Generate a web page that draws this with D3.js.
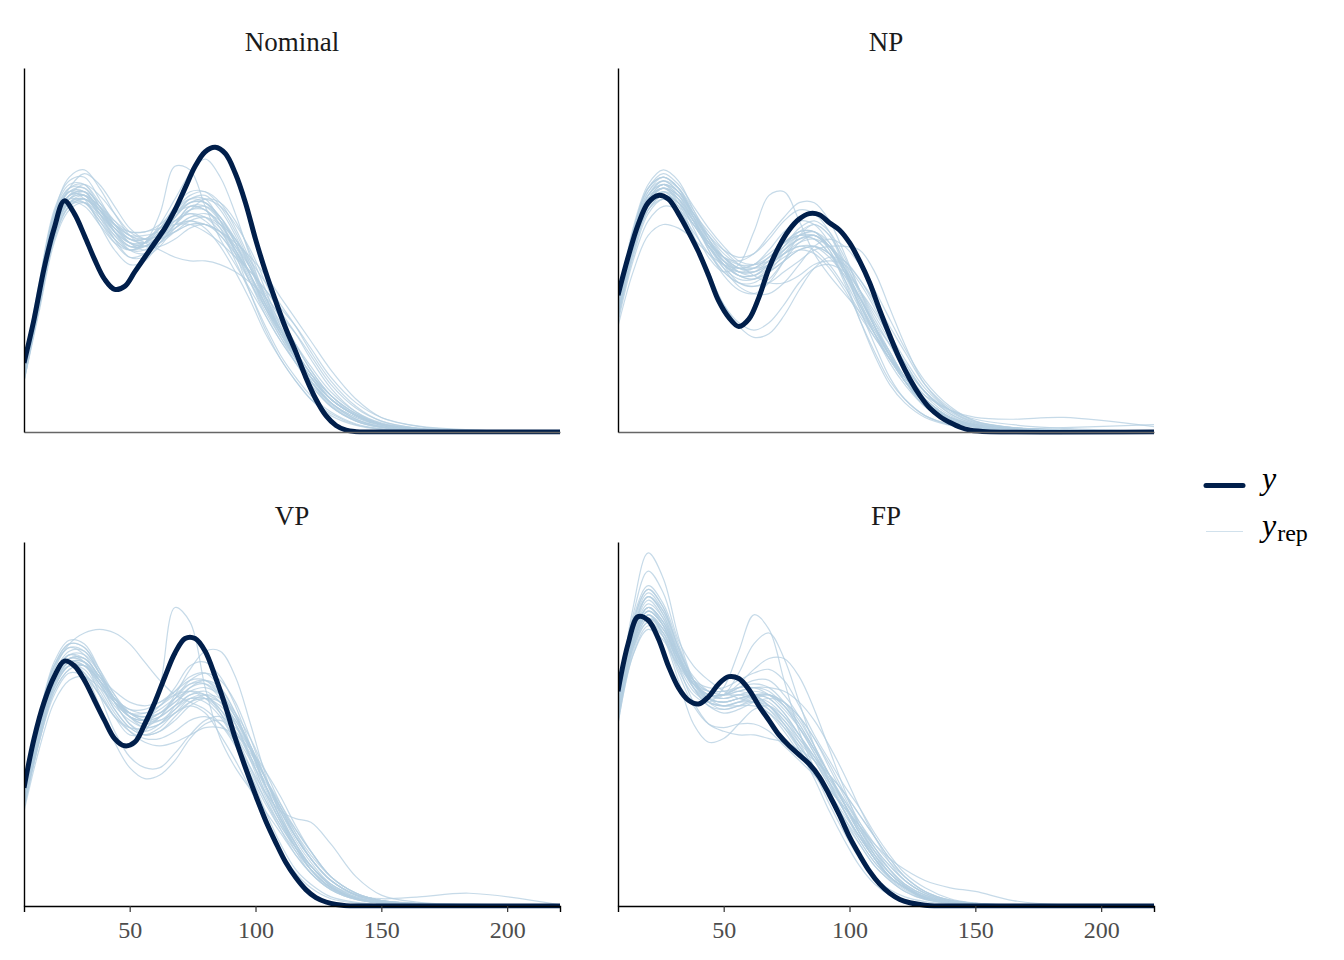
<!DOCTYPE html>
<html><head><meta charset="utf-8">
<script src="https://cdn.jsdelivr.net/npm/d3@7"></script>
<style>body{margin:0;background:#fff}</style></head>
<body><svg id="c" width="1344" height="960"></svg>
<script>
const panels = ["Nominal", "NP", "VP", "FP"];
const xTicks = [50, 100, 150, 200];
const legendLabels = ["y", "rep"];

// x grid of the observed-data density (y)
const xGridY = [8,12,16,20,24,28,32,36,40,44,48,52,56,60,64,68,72,76,80,84,88,92,96,100,104,108,112,116,120,124,128,132,136,140,144,148,152,156,221];
// x grid of the replicated densities (yrep)
const xGridRep = [8,14,20,26,32,38,44,50,56,62,68,74,80,86,92,98,104,110,116,122,130,140,150,165,185,221];

// observed density, relative height (0-100 of panel)
const yNominal = [19,31,45,56,63.5,60,54,47.5,42,39.2,40,44,48,52,56,61,67,73,77,78.2,76.5,71,63,53,44,36,28.5,22,15,9,4.5,1.8,0.5,0.1,0,0,0,0,0];
const yNP = [37.6,48,57,63,65,64,60,55,49.5,43,36,31.5,29,31,37,45,51,55.5,58.5,60,59.7,57.5,55.5,52,47,41,33.5,26.5,20,14.5,10,6.5,4.2,2.6,1.3,0.5,0.2,0,0];
const yVP = [32.5,46,56,63,67.3,66,62,56.5,51,46,44,45,50,56,63,69.5,73.5,73.5,70,63,55,46,38,30.5,23.5,17.5,12,7.8,4.5,2.3,1.1,0.4,0.1,0,0,0,0,0,0];
const yFP = [59,72,79.5,78.5,73.5,66,60,56.5,55.5,57.5,61,63,62.5,59.5,55,51,47,44,41.5,39,35.5,30.5,25,19,14,9.5,6,3.5,1.8,0.9,0.4,0.1,0,0,0,0,0,0,0];

// replicated densities
const repNominal = [
[16,37,57,65,66,61,55,51,51,54,58,60,59,55,49,41,33,26,20,14,8,4,1.8,0.6,0.2,0],
[18,41,61,69,70,64,57,52,50,52,56,58,56,51,44,36,27,20,14,9,5,2,0.8,0.3,0.1,0],
[14,33,52,61,63,60,56,53,53,56,60,63,63,59,52,43,34,27,21,15,9,4.5,2,0.7,0.2,0],
[17,39,58,67,71,68,62,56,53,53,55,57,57,54,48,41,34,28,22,16,10,5,2.2,0.8,0.3,0],
[15,35,54,62,63,58,52,48,49,53,59,64,64,58,49,38,28,20,14,9,4.5,1.8,0.7,0.2,0,0],
[16,38,59,66,64,57,50,46,47,52,57,62,62,58,52,45,37,30,24,18,11,5.5,2.5,1,0.4,0],
[16,37,56,64,65,59,53,50,52,60,73,72,62,53,46,39,32,25,19,14,8,4,1.8,0.6,0.2,0],
[17,40,60,67,67,62,57,54,52,50,48,47,47,46,44,41,37,32,27,21,13,6.5,3,1,0.3,0],
[15,36,56,65,68,65,60,55,53,54,57,61,64,63,58,49,39,29,21,14,7,3,1.2,0.4,0.1,0],
[16,37,56,63,63,59,54,51,52,56,62,66,66,62,55,46,36,28,21,15,9,4.5,2,0.8,0.3,0],
[15,34,53,62,64,61,57,54,54,55,57,58,57,55,52,48,43,37,31,25,17,9,4,1.5,0.5,0],
[17,39,59,66,66,60,53,48,48,51,56,59,59,56,50,43,35,28,22,16,10,5,2.2,0.8,0.3,0],
[16,38,60,70,72,67,60,54,51,51,53,56,57,55,50,43,35,27,20,14,8,3.5,1.5,0.5,0.1,0],
[14,34,54,63,65,62,58,55,55,57,61,64,63,58,50,41,32,25,19,13,7,3,1.3,0.5,0.2,0],
[16,37,57,64,63,58,53,50,51,54,59,63,64,62,57,50,41,32,24,17,10,4.5,2,0.7,0.3,0],
[15,36,55,63,64,60,55,52,52,55,58,60,58,54,49,44,39,34,29,23,15,8,4,1.6,0.6,0],
[16,37,56,63,62,57,52,50,52,57,64,71,75,70,60,48,37,28,21,15,8,3.5,1.5,0.5,0.2,0],
[17,39,58,65,65,61,57,55,55,56,57,57,55,52,48,44,39,33,27,20,12,5.5,2.3,0.8,0.3,0],
[16,38,58,66,67,62,56,52,51,53,57,61,62,59,53,45,36,28,21,15,9,4.5,2,0.7,0.2,0],
[15,35,55,64,66,63,58,54,53,54,56,59,60,58,53,46,37,29,22,16,9,4.5,2,0.7,0.2,0],
[17,40,60,68,68,62,55,50,49,52,57,62,61,56,47,38,29,21,15,10,5.5,2.2,0.9,0.3,0.1,0],
[16,37,56,64,65,62,57,53,52,53,55,57,57,55,51,45,38,31,24,17,10,5,2.2,0.8,0.3,0],
[15,36,56,65,66,61,55,51,51,54,59,63,63,59,52,43,34,26,19,13,7,3,1.3,0.5,0.2,0],
[17,39,59,67,68,63,57,53,52,55,60,64,65,61,54,45,35,27,20,14,8,3.5,1.5,0.5,0.2,0],
[14,34,53,62,64,61,56,52,51,52,55,58,59,57,53,47,41,35,29,22,14,7,3,1,0.3,0],
[16,37,57,65,65,60,54,50,50,53,58,61,61,57,50,42,34,27,21,15,9,4.5,2,0.7,0.2,0],
[16,38,58,66,66,61,56,53,53,56,60,62,61,57,51,43,35,28,22,16,9,4.5,2,0.8,0.3,0],
[15,36,55,63,64,60,55,52,52,56,61,65,66,63,56,47,37,28,20,14,7.5,3.2,1.4,0.5,0.2,0]
];
const repNP = [
[34,52,64,68,66,60,53,47,43,42,44,47,50,51,49,44,37,29,22,15,9,4,1.8,0.7,0.3,0],
[36,56,68,72,69,61,53,46,41,40,42,47,52,54,50,42,31,21,13,8,4,1.8,0.8,0.3,0.1,0],
[31,48,60,64,62,57,51,46,44,45,48,52,55,55,51,44,35,27,20,14,8,4,2,1,0.5,0.1],
[33,51,63,67,65,60,55,50,46,43,41,41,43,46,47,46,41,34,26,19,11,5,2.2,0.8,0.3,0],
[35,54,66,70,67,60,52,45,40,38,38,41,46,51,53,51,46,39,31,23,14,7,3,1.2,0.4,0],
[32,50,62,66,64,59,54,50,48,49,53,58,61,60,55,46,36,27,19,13,7,3,1.3,0.5,0.2,0],
[34,53,65,68,64,56,48,44,46,55,65,66,58,49,43,38,33,27,21,15,9,4,1.8,0.7,0.3,0],
[33,52,64,67,63,54,44,35,29,26,27,32,39,45,48,47,42,35,27,20,12,6,2.8,1.2,0.5,0],
[32,50,61,64,61,55,49,44,41,40,41,44,47,50,51,51,50,44,34,24,13,6,2.5,1,0.4,0],
[35,55,67,71,68,62,56,51,47,46,47,50,53,54,51,45,37,29,21,14,8,3.5,1.5,0.6,0.2,0],
[30,47,58,62,61,57,52,48,45,44,46,49,51,51,48,43,37,30,24,18,11,6,3.5,2,1,0.2],
[34,53,65,69,67,61,54,48,44,43,46,51,56,58,55,48,39,30,22,15,8,3.5,1.5,0.6,0.2,0],
[33,51,62,65,63,58,52,47,44,44,46,49,51,50,46,40,33,26,20,15,10,6,4,3.5,4,1.5],
[36,55,67,70,67,59,50,43,39,38,41,47,54,57,54,45,34,24,15,9,4.5,2,0.8,0.3,0.1,0],
[32,51,63,66,62,53,43,35,30,28,30,35,41,45,46,44,39,33,26,19,11,5,2.2,0.9,0.4,0],
[33,52,64,67,64,58,51,46,43,43,45,48,50,49,45,39,32,26,20,14,8,4,2,1,1.2,2],
[34,53,64,67,64,58,52,48,47,49,54,59,63,63,58,49,39,29,21,14,7,3,1.2,0.4,0.1,0],
[29,44,54,57,56,53,49,46,45,46,49,52,54,53,49,42,34,27,20,14,8,4,1.8,0.7,0.3,0],
[34,53,65,69,66,59,52,47,44,44,47,51,54,55,52,45,37,29,21,15,8,3.5,1.5,0.6,0.2,0],
[33,51,63,67,65,59,53,48,45,45,48,52,55,55,51,45,37,29,22,15,9,4,1.8,0.7,0.3,0],
[35,54,66,69,66,59,51,45,42,42,45,50,54,55,50,41,31,22,14,9,4.5,2,0.8,0.3,0.1,0],
[32,49,61,65,63,58,52,48,46,46,48,52,54,54,51,47,42,36,29,22,13,6.5,3,1.2,0.4,0],
[34,52,64,68,66,60,54,49,46,45,46,49,52,53,51,46,39,31,24,17,10,4.5,2,0.8,0.3,0],
[33,52,64,68,65,58,50,44,41,41,44,49,53,54,51,44,36,28,21,15,8,4,1.8,0.7,0.3,0],
[35,55,67,70,67,60,53,48,45,45,47,51,55,57,54,47,38,29,21,14,7,3,1.3,0.5,0.2,0],
[31,49,61,65,63,57,51,46,43,42,44,47,50,51,49,45,39,32,25,18,11,5.5,2.5,1.2,0.6,0.1],
[34,53,65,68,65,58,51,46,43,43,46,50,53,53,49,43,35,28,21,15,9,4,1.8,0.7,0.3,0],
[33,51,63,66,63,57,51,47,45,46,50,55,58,57,52,44,35,27,20,14,8,3.5,1.5,0.6,0.2,0]
];
const repVP = [
[29,48,62,68,68,63,57,53,52,54,57,59,58,54,47,38,29,21,14,9,4.5,1.8,0.8,0.3,0.1,0],
[31,51,66,72,71,65,58,52,49,50,54,58,58,53,45,36,26,17,10,6,2.5,1,0.4,0.1,0,0],
[27,45,59,65,66,62,57,54,54,56,59,62,62,58,50,40,30,22,16,11,6,2.5,1,0.4,0.1,0],
[30,50,65,72,75,76,75,72,67,62,58,56,54,50,44,36,28,21,15,10,5,2,0.8,0.3,0.1,0],
[28,46,60,66,65,59,52,47,48,60,82,78,60,46,38,32,26,20,14,9,4.5,1.8,0.8,0.3,0.1,0],
[30,49,63,69,67,58,48,41,38,38,42,47,51,52,49,43,35,27,19,13,7,3,1.3,0.5,0.2,0],
[28,47,61,66,64,58,52,49,49,52,58,65,70,70,63,50,36,25,17,11,5.5,2.2,1,0.4,0.1,0],
[27,45,58,64,63,58,52,48,46,46,48,51,52,50,45,38,31,26,24,23,17,8,3,1,0.3,0],
[31,52,67,73,72,65,56,50,47,48,51,55,57,56,51,43,33,24,16,10,5,2,0.8,0.3,0.1,0],
[28,46,60,66,66,62,56,52,51,52,55,57,56,52,45,37,29,22,16,11,6,3,2,2.5,3.5,0.3],
[26,43,56,62,63,60,56,53,52,53,56,60,61,58,52,44,35,26,19,13,7,3,1.3,0.5,0.2,0],
[30,49,64,70,70,64,57,52,50,52,57,62,64,62,56,46,35,25,17,10,5,2,0.8,0.3,0.1,0],
[29,47,61,67,66,60,53,48,45,44,45,47,49,49,47,43,37,30,22,15,8,3.5,1.5,0.6,0.2,0],
[32,52,66,71,69,62,54,49,47,49,53,55,53,47,40,32,23,15,9,5,2,0.8,0.3,0.1,0,0],
[28,46,61,67,67,63,59,56,55,56,58,59,57,53,47,40,33,26,19,13,7,3,1.5,0.8,0.5,0],
[29,48,62,67,64,55,45,38,35,36,40,46,50,51,48,42,35,28,21,15,8,3.5,1.5,0.6,0.2,0],
[30,49,63,69,68,63,57,53,52,55,60,66,67,63,55,44,33,24,16,10,5,2,0.8,0.3,0.1,0],
[29,48,63,69,69,64,58,53,51,52,55,58,59,56,50,41,31,23,16,10,5,2,0.8,0.3,0.1,0],
[28,46,61,67,67,62,56,52,51,53,57,61,62,59,52,43,33,24,17,11,5.5,2.2,1,0.4,0.1,0],
[30,50,65,71,70,64,57,52,50,51,54,57,57,54,48,41,34,27,21,15,8,3.5,1.5,0.6,0.2,0],
[29,47,61,67,66,61,55,51,49,50,53,57,58,56,51,44,35,27,19,13,7,3,1.3,0.5,0.2,0],
[28,47,62,68,68,63,57,54,53,55,58,61,61,57,50,41,31,23,16,10,5,2,0.8,0.3,0.1,0],
[30,49,63,68,67,61,54,49,47,48,52,56,58,57,52,44,35,26,18,12,6,2.5,1.1,0.4,0.1,0],
[27,45,59,65,66,62,57,53,51,51,53,56,57,55,50,43,35,27,20,14,8,3.5,1.5,0.6,0.2,0],
[31,51,66,72,71,64,56,50,48,50,55,60,62,60,53,43,32,23,15,9,4.5,1.8,0.8,0.3,0.1,0],
[29,48,62,68,67,62,56,52,51,53,56,59,60,58,53,46,37,28,20,13,7,3,1.3,0.5,0.2,0],
[28,46,60,66,66,61,56,53,53,55,59,63,64,60,53,43,33,24,17,11,5.5,2.2,1,0.4,0.1,0]
];
const repFP = [
[54,74,82,78,68,60,56,55,56,56,54,50,45,40,34,28,21,15,10,6,3,1.2,0.5,0.2,0,0],
[56,78,87,82,71,62,58,57,58,58,55,50,44,38,31,24,17,11,7,4,1.8,0.7,0.3,0,0,0],
[51,70,78,75,67,61,58,58,60,61,60,56,50,43,36,29,22,16,11,7,3.5,1.4,0.6,0.2,0,0],
[55,82,97,90,74,62,56,54,55,56,55,51,45,37,28,20,13,8,4.5,2.5,1.2,0.5,0.2,0,0,0],
[52,72,80,75,65,58,56,60,70,80,76,62,48,38,31,25,19,13,8,5,2,0.8,0.3,0,0,0],
[53,73,81,77,68,62,60,60,62,64,65,62,55,47,40,33,27,20,14,9,5,2,0.8,0.2,0,0],
[52,72,80,74,62,50,45,46,50,54,55,52,47,41,35,29,23,17,12,8,4,1.6,0.7,0.2,0,0],
[50,69,77,74,66,59,56,55,55,55,53,49,44,38,32,27,22,17,13,10,7,5,4,1.5,0.3,0],
[57,79,88,83,72,62,57,56,57,57,55,50,43,35,26,18,11,6,3,1.5,0.6,0.2,0,0,0,0],
[53,73,80,76,67,60,57,58,64,72,75,68,56,44,34,26,19,13,8,5,2.2,0.9,0.4,0.1,0,0],
[50,69,76,73,66,61,59,59,59,58,55,51,46,41,36,31,25,19,13,8,4,1.6,0.7,0.3,0.1,0],
[55,76,85,80,70,63,59,58,58,57,54,49,43,37,30,23,17,11,7,4,1.8,0.7,0.3,0.1,0,0],
[54,74,82,77,66,56,50,48,47,47,46,45,43,40,36,31,25,19,13,8,4,1.6,0.7,0.2,0,0],
[52,73,82,78,69,62,59,59,60,60,58,54,49,43,36,28,20,13,8,5,2.2,0.9,0.4,0.1,0,0],
[56,80,92,86,73,66,62,59,57,56,53,48,42,36,30,24,18,12,8,5,2.2,0.9,0.4,0.1,0,0],
[51,71,79,75,67,61,58,58,59,60,60,59,56,51,44,36,27,19,12,7,3.5,1.4,0.6,0.2,0,0],
[54,75,84,79,69,60,55,53,54,56,57,56,52,46,38,30,22,15,9,5.5,2.5,1,0.4,0.1,0,0],
[53,74,83,79,69,61,57,56,57,58,57,53,47,41,34,27,20,14,9,5.5,2.5,1,0.4,0.1,0,0],
[54,75,85,81,71,62,57,56,57,58,57,53,47,40,33,26,19,13,8,5,2.2,0.9,0.4,0.1,0,0],
[52,72,80,76,68,61,58,57,58,59,58,55,50,43,36,28,21,15,10,6,3,1.2,0.5,0.2,0,0],
[55,77,86,81,70,61,56,55,56,57,56,52,46,40,33,26,19,13,8,5,2.2,0.9,0.4,0.1,0,0],
[53,73,82,78,69,62,59,58,59,60,59,55,49,42,35,28,21,14,9,5.5,2.5,1,0.4,0.1,0,0],
[51,71,79,76,68,61,57,56,57,58,58,56,52,46,39,31,23,16,10,6,3,1.2,0.5,0.2,0,0],
[54,76,85,80,69,60,55,54,55,57,58,56,51,44,36,28,20,13,8,5,2.2,0.9,0.4,0.1,0,0],
[56,78,87,82,71,62,57,55,56,58,58,55,49,42,34,26,18,12,7.5,4.5,2,0.8,0.3,0.1,0,0],
[52,73,81,77,68,61,58,58,60,62,62,58,52,44,36,28,20,14,9,5.5,2.5,1,0.4,0.1,0,0],
[52,71,78,74,64,55,50,49,50,50,48,44,40,36,32,27,22,16,11,7,3.5,1.4,0.6,0.2,0,0],
[53,73,81,77,68,61,58,58,61,65,68,68,63,54,43,32,22,14,8,5,2.2,0.9,0.4,0.1,0,0]
];

const darkColor = "#011f4b";
const repColor = "#b3cde0";
const FONT = "'Liberation Serif','Times New Roman',serif";

const svg = d3.select("#c");
const layout = [
  {x0:24, x1:560, y0:68, y1:432, bottom:false},
  {x0:618, x1:1154, y0:68, y1:432, bottom:false},
  {x0:24, x1:560, y0:542, y1:906, bottom:true},
  {x0:618, x1:1154, y0:542, y1:906, bottom:true}
];
const darkSeries = [yNominal, yNP, yVP, yFP];
const repSeries = [repNominal, repNP, repVP, repFP];

panels.forEach((name, i) => {
  const L = layout[i];
  const x = d3.scaleLinear().domain([8, 221]).range([L.x0, L.x1]);
  const y = d3.scaleLinear().domain([0, 100]).range([L.y1, L.y0]);
  const g = svg.append("g");
  const mk = xs => d3.line().x((d, j) => x(xs[j])).y(d => y(d)).curve(d3.curveCatmullRom.alpha(0.5));

  const clipId = "clip" + i;
  svg.append("clipPath").attr("id", clipId).append("rect")
    .attr("x", L.x0).attr("y", L.y0 - 40).attr("width", L.x1 - L.x0).attr("height", L.y1 - L.y0 + 42.5);
  const plot = g.append("g").attr("clip-path", `url(#${clipId})`);

  plot.selectAll("path.rep").data(repSeries[i]).enter().append("path")
    .attr("class", "rep")
    .attr("d", s => mk(xGridRep)(s))
    .attr("fill", "none").attr("stroke", repColor)
    .attr("stroke-opacity", 0.75).attr("stroke-width", 1.2);

  // axes
  const ax = g.append("g").attr("transform", `translate(0,${L.y1})`);
  if (L.bottom) {
    ax.call(d3.axisBottom(x).tickValues(xTicks).tickSizeOuter(0).tickSize(6).tickPadding(9));
    ax.selectAll("text").attr("font-family", FONT).attr("font-size", 24).attr("fill", "#4d4d4d");
    ax.selectAll("line").attr("stroke", "#333").attr("stroke-width", 1.2);
    ax.select(".domain").attr("stroke", "#000").attr("stroke-width", 1.4);
  } else {
    ax.call(d3.axisBottom(x).tickValues([]).tickSizeOuter(0));
    ax.select(".domain").attr("stroke", "#666").attr("stroke-width", 1.4);
  }
  const ay = g.append("g").attr("transform", `translate(${L.x0},0)`);
  ay.call(d3.axisLeft(y).tickValues([]).tickSizeOuter(0));
  ay.select(".domain").attr("stroke", "#000").attr("stroke-width", 1.4);

  plot.append("path")
    .attr("d", mk(xGridY)(darkSeries[i]))
    .attr("fill", "none").attr("stroke", darkColor)
    .attr("stroke-width", 5).attr("stroke-linejoin", "round");

  g.append("text").attr("x", (L.x0 + L.x1) / 2).attr("y", L.y0 - 17.5)
    .attr("text-anchor", "middle").attr("font-family", FONT)
    .attr("font-size", 27).attr("fill", "#1a1a1a").text(name);
});

// legend
const lg = svg.append("g");
lg.append("line").attr("x1", 1206).attr("x2", 1243).attr("y1", 485.5).attr("y2", 485.5)
  .attr("stroke", darkColor).attr("stroke-width", 5).attr("stroke-linecap", "round");
lg.append("line").attr("x1", 1206).attr("x2", 1243).attr("y1", 531.5).attr("y2", 531.5)
  .attr("stroke", repColor).attr("stroke-opacity", 0.6).attr("stroke-width", 1.2);
lg.append("text").attr("x", 1262).attr("y", 489).attr("font-family", FONT)
  .attr("font-size", 32).attr("font-style", "italic").attr("fill", "#000").text(legendLabels[0]);
const t2 = lg.append("text").attr("x", 1262).attr("y", 536).attr("font-family", FONT)
  .attr("font-size", 32).attr("fill", "#000");
t2.append("tspan").attr("font-style", "italic").text(legendLabels[0]);
t2.append("tspan").attr("font-size", 24).attr("dy", 5).attr("dx", 1).text(legendLabels[1]);
</script>
</body></html>
